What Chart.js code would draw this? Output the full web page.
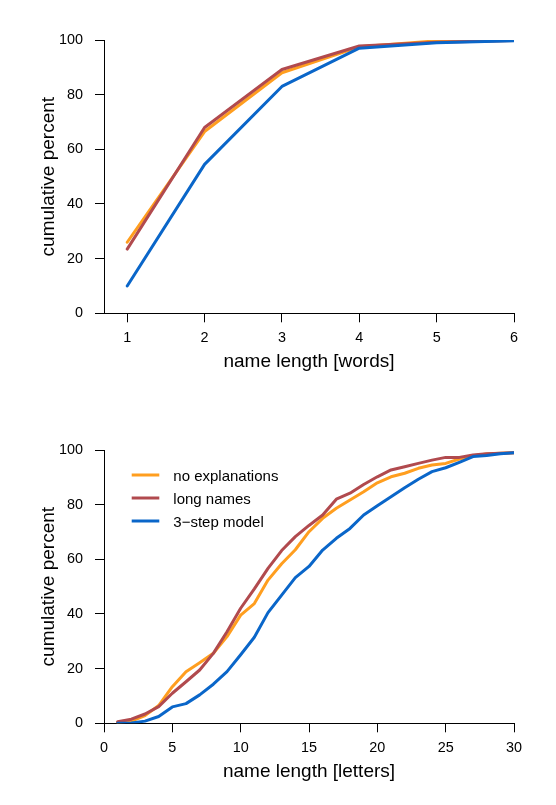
<!DOCTYPE html>
<html><head><meta charset="utf-8">
<script src="https://cdn.jsdelivr.net/npm/chart.js@4"></script>
<style>
html,body{margin:0;padding:0;background:#fff;}
#wrap{position:relative;width:556px;height:805px;background:#fff;}
canvas{position:absolute;left:0;}
#c1{top:0;width:556px;height:402px;}
#c2{top:402px;width:556px;height:403px;}
</style></head><body>
<div id="wrap">
<canvas id="c1" width="556" height="402"></canvas>
<canvas id="c2" width="556" height="403"></canvas>
</div>
<script>
// ---- data ----
const seriesNames = ['no explanations', 'long names', '3\u2212step model'];
const seriesColors = ['#FF9E1F', '#B14A4E', '#0A66C9'];

const words = [1, 2, 3, 4, 5, 6];
const wordsNoExpl = [26, 66.5, 88, 97.5, 99.7, 99.8];
const wordsLong   = [23.5, 68, 89.2, 97.8, 99.2, 99.8];
const wordsModel  = [10, 54.5, 83, 97, 99, 99.7];

const letters = [1,2,3,4,5,6,7,8,9,10,11,12,13,14,15,16,17,18,19,20,21,22,23,24,25,26,27,28,29,30];
const lettersNoExpl = [0.3,0.8,2.8,6.5,13.4,18.9,22.2,25.6,31.7,39.6,43.8,52.4,58.4,63.5,70.1,75.0,78.7,81.7,84.7,88.0,90.2,91.5,93.3,94.5,95.1,96.7,97.9,98.5,98.8,99.0];
const lettersLong   = [0.6,1.5,3.4,6.1,11.0,15.2,19.5,25.6,33.5,42.1,49.2,56.7,63.2,68.3,72.4,76.2,82.0,84.2,87.4,90.2,92.7,93.9,95.1,96.3,97.3,97.3,98.2,98.6,98.8,99.0];
const lettersModel  = [0,0.1,0.8,2.5,6.0,7.2,10.4,14.3,18.9,25.1,31.5,40.5,46.9,53.3,57.4,63.4,67.7,71.3,76.2,79.6,82.9,86.2,89.3,92.1,93.5,95.5,97.6,98.0,98.6,99.0];

const yTicks = [0, 20, 40, 60, 80, 100];
const wordTicks = [1, 2, 3, 4, 5, 6];
const letterTicks = [0, 5, 10, 15, 20, 25, 30];

const yTitle = 'cumulative percent';
const wordsTitle = 'name length [words]';
const lettersTitle = 'name length [letters]';

// ---- drawing ----
const FONT = "'Liberation Sans', Arial, Helvetica, sans-serif";
Chart.defaults.font.family = FONT;
Chart.defaults.color = '#000';

const insideLegend = {
  id: 'insideLegend',
  afterDraw(chart, args, opts) {
    if (!opts || !opts.show) return;
    const {ctx, chartArea} = chart;
    ctx.save();
    ctx.font = '15px ' + FONT;
    ctx.textBaseline = 'middle';
    ctx.textAlign = 'left';
    ctx.fillStyle = '#000';
    chart.data.datasets.forEach((ds, i) => {
      const y = chartArea.top + 25 + i * 23;
      ctx.strokeStyle = ds.borderColor;
      ctx.lineWidth = 3;
      ctx.lineCap = 'butt';
      ctx.beginPath();
      ctx.moveTo(chartArea.left + 27.7, y);
      ctx.lineTo(chartArea.left + 55.3, y);
      ctx.stroke();
      ctx.fillText(ds.label, chartArea.left + 69.3, y + 2);
    });
    ctx.restore();
  }
};

function makeDatasets(xs, arrays) {
  return arrays.map((vals, i) => ({
    label: seriesNames[i],
    data: xs.map((x, j) => ({x: x, y: vals[j]})),
    borderColor: seriesColors[i],
    backgroundColor: seriesColors[i],
    borderWidth: 3,
    pointRadius: 0,
    tension: 0,
    fill: false,
    borderCapStyle: 'round',
    borderJoinStyle: 'round',
    order: 2 - i
  }));
}

function axisCommon() {
  return {
    grid: { drawOnChartArea: false, drawTicks: true, tickLength: 9, color: '#000', lineWidth: 1 },
    border: { display: true, color: '#000', width: 1 }
  };
}

function makeChart(id, cfg) {
  const c = axisCommon();
  return new Chart(document.getElementById(id), {
    type: 'line',
    data: { datasets: makeDatasets(cfg.xs, cfg.series) },
    options: {
      responsive: false,
      animation: false,
      events: [],
      layout: { padding: { top: cfg.padTop, right: 42, left: 0, bottom: 0 } },
      plugins: { legend: { display: false }, tooltip: { enabled: false }, insideLegend: { show: cfg.legend } },
      scales: {
        x: {
          type: 'linear', min: cfg.xMin, max: cfg.xMax,
          afterBuildTicks: ax => { ax.ticks = cfg.xTicks.map(v => ({value: v})); },
          afterFit: s => { s.height = cfg.xHeight; },
          grid: c.grid, border: c.border,
          ticks: { padding: 7, font: { size: 14.4 }, color: '#000', maxRotation: 0, autoSkip: false, callback: v => String(v) },
          title: { display: true, text: cfg.xTitle, font: { size: 19 }, color: '#000', padding: { top: 0, bottom: cfg.xTitlePad } }
        },
        y: {
          type: 'linear', min: 0, max: 100,
          afterBuildTicks: ax => { ax.ticks = yTicks.map(v => ({value: v})); },
          afterFit: s => { s.width = 104; },
          grid: c.grid, border: c.border,
          ticks: { padding: 12, font: { size: 14.4 }, color: '#000', autoSkip: false, callback: v => String(v) },
          title: { display: true, text: yTitle, font: { size: 19 }, color: '#000', padding: { top: 37.6, bottom: 0 } }
        }
      }
    },
    plugins: [insideLegend]
  });
}

makeChart('c1', {
  xs: words, series: [wordsNoExpl, wordsLong, wordsModel],
  xMin: 0.7, xMax: 6, xTicks: wordTicks, xTitle: wordsTitle,
  padTop: 40, xHeight: 88.7, xTitlePad: 28.5, legend: false
});
makeChart('c2', {
  xs: letters, series: [lettersNoExpl, lettersLong, lettersModel],
  xMin: 0, xMax: 30, xTicks: letterTicks, xTitle: lettersTitle,
  padTop: 48, xHeight: 81.7, xTitlePad: 21.5, legend: true
});
</script>
</body></html>
